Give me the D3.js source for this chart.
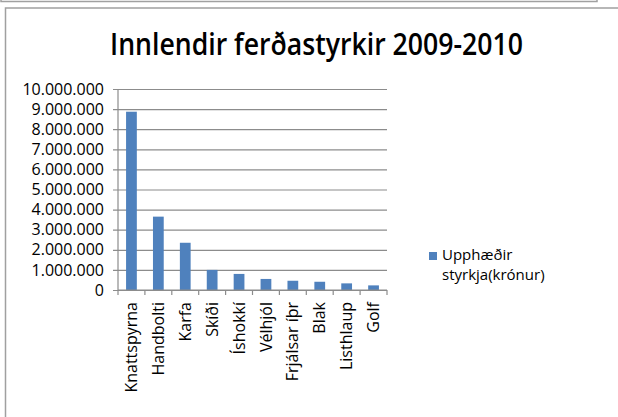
<!DOCTYPE html>
<html>
<head>
<meta charset="utf-8">
<script src="https://cdn.jsdelivr.net/npm/d3@7"></script>
<style>
  html, body { margin: 0; padding: 0; background: #fff; }
  svg { display: block; }
</style>
</head>
<body>
<script>
// chart data
var categories = ["Knattspyrna", "Handbolti", "Karfa", "Skíði", "Íshokkí",
                  "Vélhjól", "Frjálsar íþr", "Blak", "Listhlaup", "Golf"];
var amounts = [8870000, 3650000, 2350000, 1000000, 800000,
               550000, 460000, 410000, 330000, 230000];
var yTicks = [0, 1000000, 2000000, 3000000, 4000000, 5000000,
              6000000, 7000000, 8000000, 9000000, 10000000];
var seriesName = ["Upphæðir", "styrkja(krónur)"];
var chartTitle = "Innlendir ferðastyrkir 2009-2010";

var W = 618, H = 417;
var font = "'Open Sans', 'DejaVu Sans', sans-serif";
var gridColour = "#8c8c8c";
var barColour = "#4f81bd";

var svg = d3.select("body").append("svg")
    .attr("width", W)
    .attr("height", H);

// frame bits: bottom of the box above, and the chart's own border
svg.append("path")
    .attr("d", "M1,0 V1.5 H597 V0")
    .attr("fill", "none")
    .attr("stroke", "#a0a0a0")
    .attr("stroke-width", 1.5);
svg.append("path")
    .attr("d", "M5.5," + H + " V8 H" + W)
    .attr("fill", "none")
    .attr("stroke", "#a0a0a0")
    .attr("stroke-width", 1.5);

// title
svg.append("text")
    .attr("x", 110)
    .attr("y", 55)
    .attr("textLength", 413)
    .attr("lengthAdjust", "spacingAndGlyphs")
    .style("font-family", font)
    .style("font-size", "30px")
    .style("font-weight", 600)
    .attr("fill", "#000")
    .text(chartTitle);

var plot = {left: 118, right: 387, top: 89, bottom: 290};

var x = d3.scaleBand()
    .domain(categories)
    .range([plot.left, plot.right])
    .paddingInner(0.6)
    .paddingOuter(0.3);

var xEdges = d3.scaleLinear()
    .domain([0, categories.length])
    .range([plot.left, plot.right]);

var y = d3.scaleLinear()
    .domain([0, 10000000])
    .range([plot.bottom, plot.top]);

var fmt = function(d) {
    return d3.format(",")(d).replace(/,/g, ".");
};

// y axis with gridlines
var yAxis = d3.axisLeft(y)
    .tickValues(yTicks)
    .tickSize(-(plot.right - plot.left))
    .tickFormat(fmt)
    .tickPadding(14);

var gy = svg.append("g")
    .attr("transform", "translate(" + plot.left + ",0)")
    .call(yAxis);
gy.select(".domain").remove();
gy.selectAll(".tick line")
    .attr("x1", -5)
    .attr("stroke", gridColour)
    .attr("stroke-width", 1.2);
gy.selectAll(".tick text")
    .style("font-family", font)
    .style("font-size", "16px")
    .attr("fill", "#000");

// vertical axis line
svg.append("line")
    .attr("x1", plot.left).attr("x2", plot.left)
    .attr("y1", plot.top).attr("y2", plot.bottom)
    .attr("stroke", gridColour)
    .attr("stroke-width", 1.2);

// bars
svg.append("g").selectAll("rect")
    .data(amounts)
    .enter()
    .append("rect")
    .attr("x", function(d, i) { return x(categories[i]); })
    .attr("y", function(d) { return y(d); })
    .attr("width", x.bandwidth())
    .attr("height", function(d) { return y(0) - y(d); })
    .attr("fill", barColour);

// category axis: line, ticks between categories, rotated labels
svg.append("line")
    .attr("x1", plot.left).attr("x2", plot.right)
    .attr("y1", plot.bottom).attr("y2", plot.bottom)
    .attr("stroke", gridColour)
    .attr("stroke-width", 1.2);

svg.append("g").selectAll("line")
    .data(d3.range(categories.length + 1))
    .enter()
    .append("line")
    .attr("x1", function(d) { return xEdges(d); })
    .attr("x2", function(d) { return xEdges(d); })
    .attr("y1", plot.bottom)
    .attr("y2", plot.bottom + 5)
    .attr("stroke", gridColour)
    .attr("stroke-width", 1.2);

svg.append("g").selectAll("text")
    .data(categories)
    .enter()
    .append("text")
    .attr("transform", function(d) {
        var cx = x(d) + x.bandwidth() / 2;
        return "translate(" + cx + "," + (plot.bottom + 12) + ") rotate(-90)";
    })
    .attr("dy", "0.35em")
    .attr("text-anchor", "end")
    .style("font-family", font)
    .style("font-size", "16px")
    .attr("fill", "#000")
    .text(function(d) { return d; });

// legend
var legend = svg.append("g");
legend.append("rect")
    .attr("x", 429)
    .attr("y", 252)
    .attr("width", 8)
    .attr("height", 8)
    .attr("fill", barColour);
legend.selectAll("text")
    .data(seriesName)
    .enter()
    .append("text")
    .attr("x", 442)
    .attr("y", function(d, i) { return 260 + i * 19.5; })
    .style("font-family", font)
    .style("font-size", "15px")
    .attr("fill", "#000")
    .text(function(d) { return d; });
</script>
</body>
</html>
